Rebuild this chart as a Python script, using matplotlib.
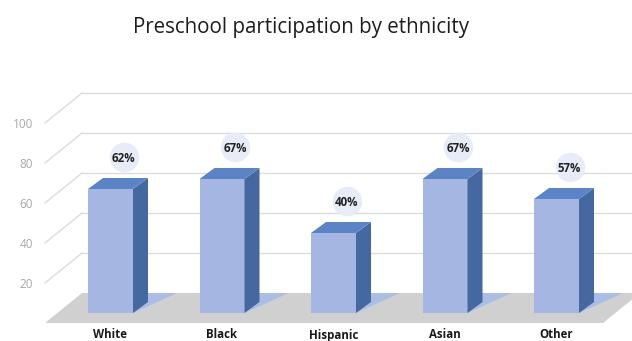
import matplotlib
matplotlib.use("Agg")
import matplotlib.pyplot as plt
from matplotlib.patches import Polygon

# data
categories = ["White", "Black", "Hispanic", "Asian", "Other"]
values = [62, 67, 40, 67, 57]
labels = ["62%", "67%", "40%", "67%", "57%"]
yticks = [20, 40, 60, 80, 100]

# colours
FRONT = "#a4b6e1"
TOP = "#5b84c7"
SIDE = "#44689f"
SHADOW = "#aabde6"
FLOOR = "#d0d0d0"
GRID = "#dcdcdc"
BUBBLE = "#e7ecf8"

# pseudo-3d geometry (data units: x = category index, y = value)
PX = 1 / 111.5          # one pixel along x
W = 45 * PX             # bar front width
DX, DY = 15 * PX, 5.5   # bar depth offset
WALL_X0 = -0.2556       # back wall left edge
WALL_DY = 10            # back wall raised above bar baseline
FRONT_X0 = -0.5874      # floor front left edge
FRONT_DY = -5           # floor front below bar baseline
XMAX = 5.2

fig = plt.figure(figsize=(6.32, 3.41), dpi=100)
ax = fig.add_axes([0, 0, 1, 1])
ax.set_xlim(-0.991, 4.677)
ax.set_ylim(-14, 156.5)
ax.axis("off")
plt.rcParams["font.family"] = ["Open Sans", "DejaVu Sans"]

# floor
floor_right = (603 - 110.5) * PX
ax.add_patch(Polygon([(FRONT_X0, FRONT_DY), (floor_right, FRONT_DY),
                      (floor_right + 37 * PX, WALL_DY), (WALL_X0, WALL_DY)],
                     closed=True, fc=FLOOR, ec="none", zorder=1))

# back wall gridlines + side diagonals + tick labels
for v in yticks:
    ax.plot([WALL_X0, XMAX], [v + WALL_DY, v + WALL_DY], color=GRID, lw=1, zorder=0)
    ax.plot([FRONT_X0, WALL_X0], [v + FRONT_DY, v + WALL_DY], color=GRID, lw=1, zorder=0)
    ax.text(FRONT_X0 - 12 * PX, v + FRONT_DY - 1, str(v), ha="right", va="center",
            fontsize=8.5, color="#a8a8a8")

# bars
for i, (cat, v, lab) in enumerate(zip(categories, values, labels)):
    xl = i - W / 2
    xr = i + W / 2
    # shadow on floor
    ax.add_patch(Polygon([(xr, 0), (xr + 44 * PX, WALL_DY), (xr + DX, WALL_DY)],
                         closed=True, fc=SHADOW, ec="none", zorder=2))
    # front face
    ax.bar(i, v, width=W, bottom=0, color=FRONT, zorder=3)
    # side face
    ax.add_patch(Polygon([(xr, 0), (xr + DX, DY), (xr + DX, v + DY), (xr, v)],
                         closed=True, fc=SIDE, ec="none", zorder=3))
    # top face
    ax.add_patch(Polygon([(xl, v), (xr, v), (xr + DX, v + DY), (xl + DX, v + DY)],
                         closed=True, fc=TOP, ec="none", zorder=3))
    # value bubble
    ax.scatter([i + 13 * PX], [v + 16], s=450, color=BUBBLE, zorder=4, linewidths=0)
    ax.text(i + 13 * PX, v + 15.5, lab, ha="center", va="center", fontsize=8.3,
            fontweight="bold", color="#222222", zorder=5)
    # category label
    ax.text(i, -11, cat, ha="center", va="center", fontsize=8.3,
            fontweight="bold", color="#1a1a1a")

ax.text((301 - 110.5) * PX, 156.5 - 27 / 2, "Preschool participation by ethnicity",
        ha="center", va="center", fontsize=14.8, color="#1e1e1e")

fig.savefig("out.png", dpi=100)
